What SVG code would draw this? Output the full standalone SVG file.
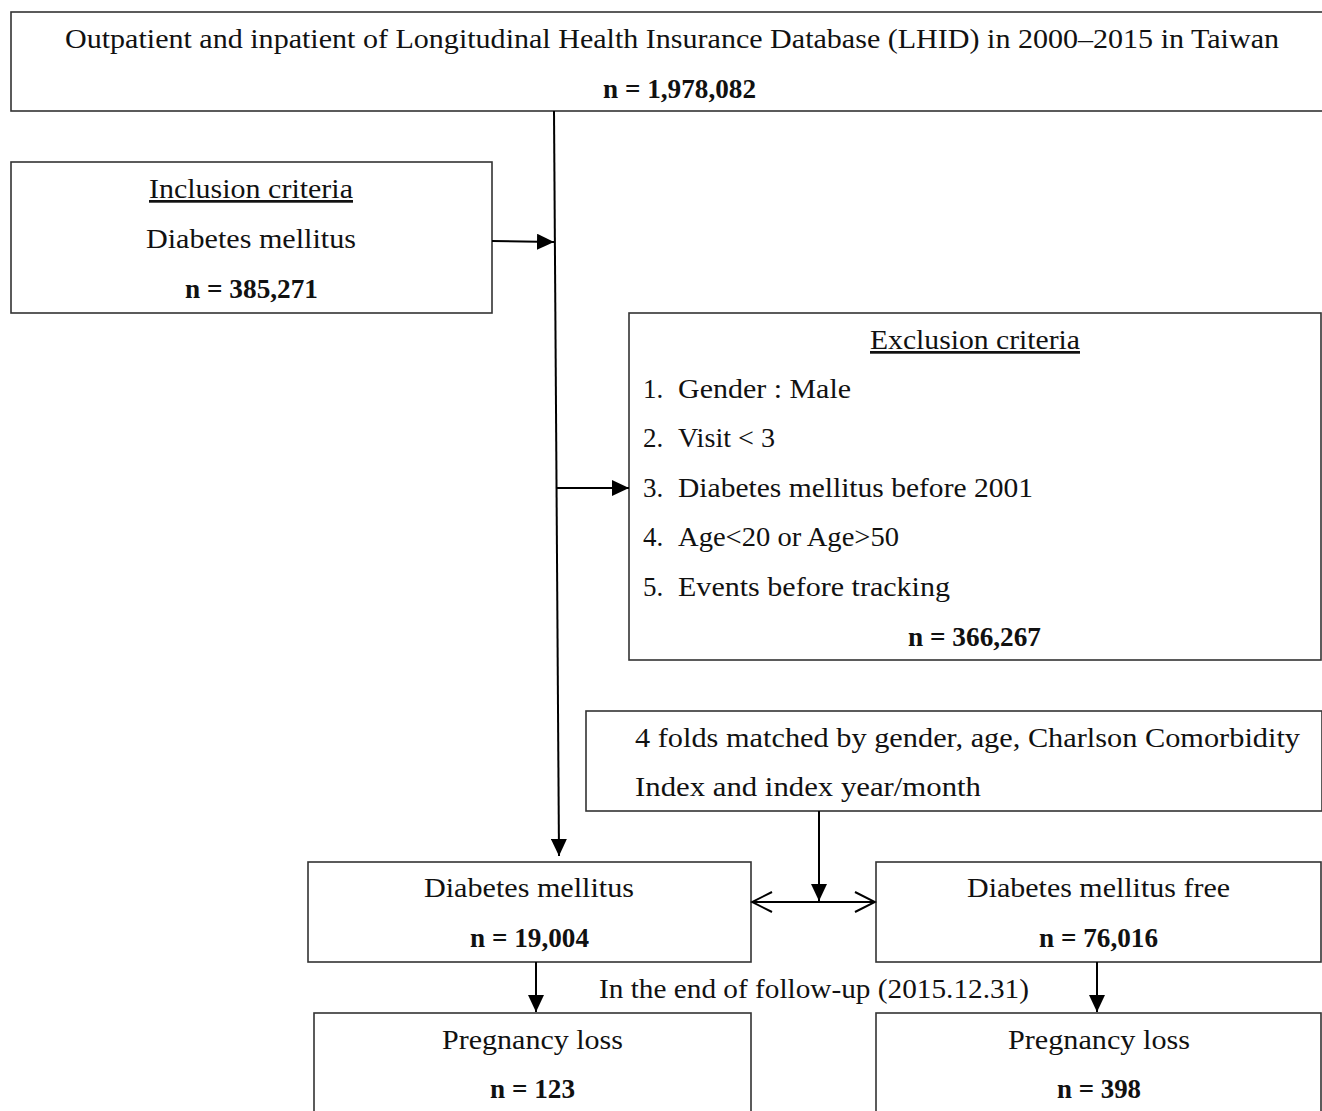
<svg xmlns="http://www.w3.org/2000/svg" width="1322" height="1111" viewBox="0 0 1322 1111">
<style>
.box{fill:#fff;stroke:#333;stroke-width:1.6}
.t{font-family:"Liberation Serif","DejaVu Serif",serif;font-size:27px;fill:#111}
.b{font-weight:bold}
.u{text-decoration:underline}
.ln{stroke:#000;stroke-width:2;fill:none}
</style>
<defs>
<marker id="ah" markerWidth="18" markerHeight="16" refX="17" refY="8" orient="auto" markerUnits="userSpaceOnUse">
<path d="M0,0 L17,8 L0,16 Z" fill="#000"/>
</marker>
<marker id="oh" markerWidth="24" markerHeight="24" refX="22" refY="12" orient="auto-start-reverse" markerUnits="userSpaceOnUse">
<path d="M2,2 L22,12 L2,22" fill="none" stroke="#000" stroke-width="2"/>
</marker>
</defs>
<rect width="1322" height="1111" fill="#fff"/>
<g id="source">
<rect class="box" x="11" y="12" width="1320" height="99"/>
<text class="t" x="65" y="48" textLength="1214" lengthAdjust="spacingAndGlyphs">Outpatient and inpatient of Longitudinal Health Insurance Database (LHID) in 2000–2015 in Taiwan</text>
<text class="t b" x="603" y="98" textLength="153" lengthAdjust="spacingAndGlyphs">n = 1,978,082</text>
</g>
<g id="inclusion">
<rect class="box" x="11" y="162" width="481" height="151"/>
<text class="t u" x="149" y="198" textLength="204" lengthAdjust="spacingAndGlyphs">Inclusion criteria</text>
<text class="t" x="146" y="248" textLength="210" lengthAdjust="spacingAndGlyphs">Diabetes mellitus</text>
<text class="t b" x="185" y="298" textLength="133" lengthAdjust="spacingAndGlyphs">n = 385,271</text>
</g>
<g id="exclusion">
<rect class="box" x="629" y="313" width="692" height="347"/>
<text class="t u" x="870" y="349" textLength="210" lengthAdjust="spacingAndGlyphs">Exclusion criteria</text>
<text class="t" x="643" y="398">1.</text><text class="t" x="678" y="398" textLength="173" lengthAdjust="spacingAndGlyphs">Gender : Male</text>
<text class="t" x="643" y="447">2.</text><text class="t" x="678" y="447" textLength="97" lengthAdjust="spacingAndGlyphs">Visit &lt; 3</text>
<text class="t" x="643" y="497">3.</text><text class="t" x="678" y="497" textLength="355" lengthAdjust="spacingAndGlyphs">Diabetes mellitus before 2001</text>
<text class="t" x="643" y="546">4.</text><text class="t" x="678" y="546" textLength="221" lengthAdjust="spacingAndGlyphs">Age&lt;20 or Age&gt;50</text>
<text class="t" x="643" y="596">5.</text><text class="t" x="678" y="596" textLength="272" lengthAdjust="spacingAndGlyphs">Events before tracking</text>
<text class="t b" x="908" y="646" textLength="133" lengthAdjust="spacingAndGlyphs">n = 366,267</text>
</g>
<g id="matching">
<rect class="box" x="586" y="711" width="736" height="100"/>
<text class="t" x="635" y="747" textLength="665" lengthAdjust="spacingAndGlyphs">4 folds matched by gender, age, Charlson Comorbidity</text>
<text class="t" x="635" y="796" textLength="346" lengthAdjust="spacingAndGlyphs">Index and index year/month</text>
</g>
<g id="dm">
<rect class="box" x="308" y="862" width="443" height="100"/>
<text class="t" x="424" y="897" textLength="210" lengthAdjust="spacingAndGlyphs">Diabetes mellitus</text>
<text class="t b" x="470" y="947" textLength="119" lengthAdjust="spacingAndGlyphs">n = 19,004</text>
</g>
<g id="dmfree">
<rect class="box" x="876" y="862" width="445" height="100"/>
<text class="t" x="967" y="897" textLength="263" lengthAdjust="spacingAndGlyphs">Diabetes mellitus free</text>
<text class="t b" x="1039" y="947" textLength="119" lengthAdjust="spacingAndGlyphs">n = 76,016</text>
</g>
<g id="followup">
<text class="t" x="599" y="998" textLength="430" lengthAdjust="spacingAndGlyphs">In the end of follow-up (2015.12.31)</text>
</g>
<g id="loss-dm">
<rect class="box" x="314" y="1013" width="437" height="110"/>
<text class="t" x="442" y="1049" textLength="181" lengthAdjust="spacingAndGlyphs">Pregnancy loss</text>
<text class="t b" x="490" y="1098" textLength="85" lengthAdjust="spacingAndGlyphs">n = 123</text>
</g>
<g id="loss-free">
<rect class="box" x="876" y="1013" width="445" height="110"/>
<text class="t" x="1008" y="1049" textLength="182" lengthAdjust="spacingAndGlyphs">Pregnancy loss</text>
<text class="t b" x="1057" y="1098" textLength="84" lengthAdjust="spacingAndGlyphs">n = 398</text>
</g>
<g id="connectors">
<line class="ln" x1="554" y1="111" x2="559" y2="856" marker-end="url(#ah)"/>
<line class="ln" x1="492" y1="241" x2="554" y2="242" marker-end="url(#ah)"/>
<line class="ln" x1="556" y1="488" x2="629" y2="488" marker-end="url(#ah)"/>
<line class="ln" x1="819" y1="811" x2="819" y2="901" marker-end="url(#ah)"/>
<line class="ln" x1="752" y1="902" x2="875" y2="902" marker-start="url(#oh)" marker-end="url(#oh)"/>
<line class="ln" x1="536" y1="962" x2="536" y2="1012" marker-end="url(#ah)"/>
<line class="ln" x1="1097" y1="962" x2="1097" y2="1012" marker-end="url(#ah)"/>
</g>
</svg>
